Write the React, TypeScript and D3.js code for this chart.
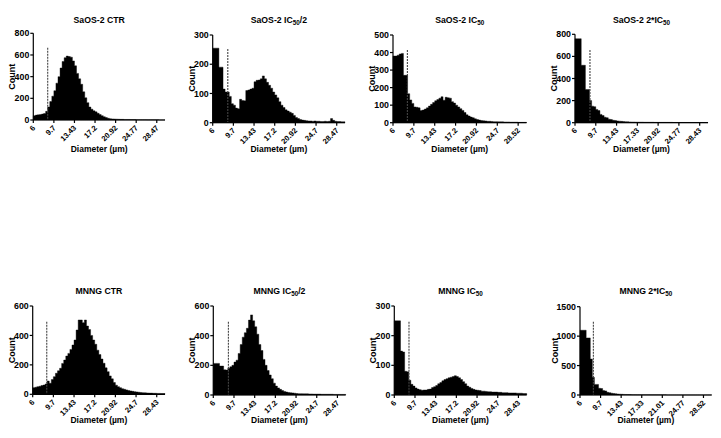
import React from 'react';
import * as d3 from 'd3';

// counts per diameter bin (64 bins, labels every 10 bins)
const saosCtr = [
  40, 45, 48, 50, 55, 60, 80, 120, 170, 220,
  270, 340, 400, 480, 540, 575, 590, 585, 580, 545,
  500, 430, 380, 330, 260, 205, 160, 120, 100, 85,
  75, 62, 50, 40, 30, 22, 16, 12, 10, 9,
  8, 7, 6, 6, 5, 5, 5, 4, 4, 4,
  3, 3, 3, 3, 3, 2, 2, 2, 2, 2,
  2, 1, 1, 1,
];
const saosHalf = [
  255, 255, 255, 190, 190, 115, 105, 105, 90, 65,
  60, 50, 48, 80, 76, 75, 110, 112, 115, 118,
  140, 145, 146, 150, 160, 150, 138, 128, 118, 105,
  95, 85, 72, 60, 52, 44, 40, 36, 32, 25,
  18, 14, 11, 9, 8, 7, 6, 6, 5, 6,
  5, 5, 4, 4, 5, 4, 5, 14, 8, 5,
  4, 4, 3, 3,
];
const saosIc50 = [
  380, 380, 385, 392, 395, 270, 270, 165, 130, 110,
  90, 88, 85, 70, 72, 78, 85, 95, 105, 115,
  125, 132, 140, 148, 128, 145, 142, 140, 120, 112,
  100, 90, 80, 70, 58, 45, 38, 32, 28, 22,
  18, 15, 12, 11, 10, 8, 8, 7, 6, 6,
  5, 5, 5, 4, 4, 4, 3, 3, 3, 3,
  2, 2, 2, 2,
];
const saos2x = [
  760, 760, 760, 520, 520, 300, 300, 200, 150, 145,
  120, 110, 75, 65, 50, 45, 32, 28, 22, 20,
  16, 14, 12, 10, 9, 8, 7, 6, 6, 5,
  5, 5, 5, 4, 4, 4, 4, 4, 3, 3,
  3, 3, 3, 3, 3, 3, 3, 2, 2, 2,
  2, 2, 2, 2, 2, 2, 2, 2, 2, 2,
  2, 2, 2, 2,
];
const mnngCtr = [
  45, 48, 52, 55, 60, 63, 70, 90, 75, 100,
  120, 143, 160, 177, 210, 233, 260, 278, 305, 335,
  369, 437, 505, 505, 487, 505, 464, 440, 400, 369,
  340, 300, 270, 240, 211, 180, 154, 125, 105, 80,
  62, 52, 45, 38, 34, 30, 26, 23, 20, 18,
  16, 14, 12, 11, 10, 9, 8, 8, 7, 7,
  6, 6, 5, 5,
];
const mnngHalf = [
  213, 213, 213, 195, 195, 170, 168, 180, 190, 200,
  222, 235, 280, 340, 390, 420, 450, 505, 540, 500,
  460, 410, 340, 300, 240, 200, 165, 135, 110, 80,
  60, 48, 38, 30, 24, 20, 17, 15, 14, 12,
  10, 9, 9, 8, 8, 8, 7, 7, 6, 6,
  6, 6, 5, 5, 5, 5, 5, 5, 4, 4,
  4, 4, 4, 4,
];
const mnngIc50 = [
  250, 250, 250, 148, 145, 80, 78, 50, 36, 30,
  24, 20, 18, 16, 17, 17, 19, 20, 25, 28,
  32, 38, 42, 48, 52, 55, 58, 60, 62, 65,
  62, 58, 52, 45, 38, 30, 26, 22, 19, 17,
  16, 15, 13, 13, 12, 11, 11, 10, 10, 10,
  9, 9, 8, 8, 8, 7, 7, 7, 7, 6,
  6, 6, 5, 5,
];
const mnng2x = [
  1100, 1100, 1100, 970, 970, 610, 300, 180, 180, 115,
  110, 75, 70, 45, 40, 30, 25, 20, 16, 14,
  12, 10, 9, 8, 7, 6, 6, 5, 5, 5,
  4, 4, 4, 4, 3, 3, 3, 3, 3, 3,
  3, 3, 2, 2, 2, 2, 2, 2, 2, 2,
  2, 2, 2, 2, 2, 2, 2, 2, 2, 2,
  2, 2, 2, 2,
];

const xLabels = [
  ['6', '9.7', '13.43', '17.2', '20.92', '24.77', '28.47'],
  ['6', '9.7', '13.43', '17.2', '20.92', '24.7', '28.47'],
  ['6', '9.7', '13.43', '17.2', '20.92', '24.7', '28.52'],
  ['6', '9.7', '13.43', '17.33', '20.92', '24.77', '28.43'],
  ['6', '9.7', '13.43', '17.2', '20.92', '24.7', '28.43'],
  ['6', '9.7', '13.43', '17.2', '20.92', '24.7', '28.47'],
  ['6', '9.7', '13.43', '17.2', '20.92', '24.7', '28.43'],
  ['6', '9.7', '13.43', '17.33', '21.01', '24.77', '28.52'],
];
const titles = [
  ['SaOS-2 CTR', '', ''],
  ['SaOS-2 IC', '50', '/2'],
  ['SaOS-2 IC', '50', ''],
  ['SaOS-2 2*IC', '50', ''],
  ['MNNG CTR', '', ''],
  ['MNNG IC', '50', '/2'],
  ['MNNG IC', '50', ''],
  ['MNNG 2*IC', '50', ''],
];
const series = [saosCtr, saosHalf, saosIc50, saos2x, mnngCtr, mnngHalf, mnngIc50, mnng2x];
const yMax = [800, 300, 500, 800, 600, 600, 300, 1500];
const yStep = [200, 100, 100, 200, 200, 200, 100, 500];
// threshold marker: bin position and height (counts)
const cutBin = [7.0, 7.3, 6.9, 7.2, 6.8, 7.3, 7.1, 6.5];
const cutTop = [667, 252, 414, 658, 493, 494, 247, 1245];

// plot frames [left, right, top, bottom]
const frames = [
  [33.3, 165, 33.3, 120],
  [212.7, 345, 35, 122.7],
  [393, 526.5, 35, 122.7],
  [575, 708, 34.3, 122.7],
  [32.7, 165, 306, 394.3],
  [213.3, 345.7, 306, 395],
  [394.3, 526.7, 306, 395],
  [580, 711.7, 306.7, 395],
];

const FONT = '"Liberation Sans", Arial, sans-serif';
const NBINS = 64;

function Panel({ idx }: { idx: number }) {
  const [left, right, top, bottom] = frames[idx];
  const counts = series[idx];
  const x = d3.scaleLinear().domain([0, NBINS]).range([left, right]);
  const y = d3.scaleLinear().domain([0, yMax[idx]]).range([bottom, top]);
  const yTicks = d3.range(0, yMax[idx] + 1, yStep[idx]);
  const t = titles[idx];
  const titleY = idx < 4 ? 23.3 : 293.5;
  const xTitleY = idx < 4 ? 152 : 423;
  const countX = left - (yMax[idx] >= 1000 ? 25 : 21);
  const midX = (left + right) / 2;

  // histogram outline as a stepped area (last bin repeated to close the final step)
  const steps = counts.map((c, i) => ({ i, c })).concat([{ i: counts.length, c: counts[counts.length - 1] }]);
  const area = d3.area<{ i: number; c: number }>()
    .x(d => x(d.i))
    .y0(bottom)
    .y1(d => y(d.c))
    .curve(d3.curveStepAfter);

  return (
    <g fontFamily={FONT} fontWeight="bold" fill="#000">
      <text x={midX} y={titleY} textAnchor="middle" fontSize={8.7}>
        {t[0]}
        {t[1] && <tspan fontSize={6.3} dy={2}>{t[1]}</tspan>}
        {t[1] && <tspan dy={-2}>{t[2]}</tspan>}
      </text>

      <path d={area(steps) || ''} fill="#000" stroke="#000" strokeWidth={0.4} />

      <line x1={x(cutBin[idx])} x2={x(cutBin[idx])} y1={y(cutTop[idx])} y2={bottom}
        stroke="#444" strokeWidth={1.1} strokeDasharray="2,1" />

      <line x1={left} x2={left} y1={top} y2={bottom} stroke="#000" strokeWidth={1.2} />
      {yTicks.map(v => (
        <g key={v}>
          <line x1={left - 3} x2={left} y1={y(v)} y2={y(v)} stroke="#000" strokeWidth={1.2} />
          <text x={left - 4} y={y(v)} dy="0.35em" textAnchor="end" fontSize={8.8}>{v}</text>
        </g>
      ))}
      <text transform={`translate(${countX},${(top + bottom) / 2}) rotate(-90)`} textAnchor="middle" dy="0.35em" fontSize={9}>Count</text>

      <line x1={left} x2={right} y1={bottom} y2={bottom} stroke="#000" strokeWidth={1.2} />
      {xLabels[idx].map((lab, k) => (
        <g key={k}>
          <line x1={x(k * 10)} x2={x(k * 10)} y1={bottom} y2={bottom + 3} stroke="#000" strokeWidth={1.2} />
          <g transform={`translate(${x(k * 10) + 0.5},${bottom + 6.5}) rotate(-45)`}>
            <text textAnchor="end" dy="0.35em" fontSize={7.6}>{lab}</text>
          </g>
        </g>
      ))}
      <text x={midX} y={xTitleY} textAnchor="middle" fontSize={8.5}>Diameter (µm)</text>
    </g>
  );
}

export default function App() {
  return (
    <div style={{ position: 'fixed', left: 0, top: 0 }}>
      <svg width={721} height={438} style={{ display: 'block', background: '#fff' }}>
        {frames.map((_, i) => <Panel key={i} idx={i} />)}
      </svg>
    </div>
  );
}
